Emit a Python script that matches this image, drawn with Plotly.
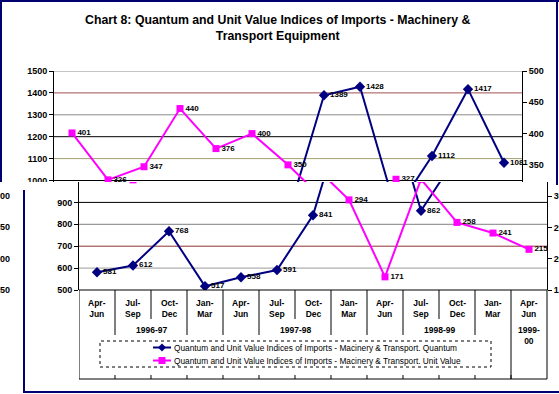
import plotly.graph_objects as go

# ---------------- data ----------------
quarters = ["Apr-Jun", "Jul-Sep", "Oct-Dec", "Jan-Mar",
            "Apr-Jun", "Jul-Sep", "Oct-Dec", "Jan-Mar",
            "Apr-Jun", "Jul-Sep", "Oct-Dec", "Jan-Mar",
            "Apr-Jun"]
quantum = [581, 612, 768, 517, 558, 591, 841, 1389, 1428, 862, 1112, 1417, 1081]
unit_value = [401, 326, 347, 440, 376, 400, 350, 294, 171, 327, 258, 241, 215]
year_labels = ["1996-97", "1997-98", "1998-99", "1999-00"]
year_first_quarter = [1, 5, 9, 12]
year_last_quarter = [2, 6, 10, 12]
left_ticks = [500, 600, 700, 800, 900, 1000, 1100, 1200, 1300, 1400, 1500]
right_ticks = [150, 200, 250, 300, 350, 400, 450, 500]
quantum_name = "Quantum and Unit Value Indices of Imports - Macinery & Transport. Quantum"
unit_name = "Quantum and Unit Value Indices of Imports - Macinery & Transport. Unit Value"
chart_title = "Chart 8: Quantum and Unit Value Indices of Imports - Machinery &<br>Transport Equipment"

# ---------------- geometry / style ----------------
W, H = 559, 394
FONT = "Liberation Sans, Arial, sans-serif"
NAVY = "#000080"
MAGENTA = "#FF00FF"
FRAME = "#00006e"


def fx(p):
    return p / W


def fy(p):
    return 1 - p / H


TOP, BOT, CUT = 71, 290, 182
A_L, A_R = 54, 522
B_L, B_R = 79, 547
N = len(quarters)
CAT_W = (A_R - A_L) / N
LMIN, LMAX = left_ticks[0], left_ticks[-1]
RMIN, RMAX = right_ticks[0], right_ticks[-1]
frac_cut = (BOT - CUT) / (BOT - TOP)
l_cut = LMIN + frac_cut * (LMAX - LMIN)
r_cut = RMIN + frac_cut * (RMAX - RMIN)
EXT_A = 30
EXT_B = W - B_R

grid_colors = {1500: "#8c8c8c", 1400: "#a05050", 1300: "#8c8c8c", 1200: "#000000",
               1100: "#a0a070", 1000: "#000000", 900: "#000000", 800: "#808080",
               700: "#903030", 600: "#9a9a9a"}

fig = go.Figure()

xs = list(range(N))
label_font = dict(family=FONT, size=8, color="black", weight="bold")


def add_pair(xa, yl, yr):
    fig.add_trace(go.Scatter(
        x=xs, y=quantum, xaxis=xa, yaxis=yl, name=quantum_name,
        mode="lines+markers+text", text=[str(v) for v in quantum],
        textposition="middle right", textfont=label_font,
        line=dict(color=NAVY, width=2),
        marker=dict(symbol="diamond", size=8, color=NAVY),
        showlegend=False, cliponaxis=True))
    fig.add_trace(go.Scatter(
        x=xs, y=unit_value, xaxis=xa, yaxis=yr, name=unit_name,
        mode="lines+markers+text", text=[str(v) for v in unit_value],
        textposition="middle right", textfont=label_font,
        line=dict(color=MAGENTA, width=2),
        marker=dict(symbol="square", size=7, color=MAGENTA),
        showlegend=False, cliponaxis=True))


# upper (first) copy and lower (shifted) copy of the chart
add_pair("x", "y", "y2")
add_pair("x2", "y3", "y4")

tickfont = dict(family=FONT, size=9, color="black", weight="bold")
common_y = dict(showgrid=False, zeroline=False, showline=True, linecolor="black",
                linewidth=1, ticks="outside", ticklen=4, tickcolor="black",
                tickfont=tickfont, fixedrange=True, automargin=False)

fig.update_layout(
    width=W, height=H, autosize=False,
    margin=dict(l=0, r=0, t=0, b=0, pad=0, autoexpand=False),
    showlegend=False,
    paper_bgcolor="white", plot_bgcolor="rgba(0,0,0,0)",
    xaxis=dict(domain=[fx(A_L), fx(A_R + EXT_A)],
               range=[-0.5, N - 0.5 + EXT_A / CAT_W],
               visible=False, fixedrange=True, anchor="y"),
    yaxis=dict(domain=[fy(CUT), fy(TOP)], range=[l_cut, LMAX],
               tickvals=[t for t in left_ticks if t >= l_cut], anchor="x", **common_y),
    yaxis2=dict(overlaying="y", side="right", anchor="free", position=fx(A_R),
                range=[r_cut, RMAX], tickvals=[t for t in right_ticks if t >= r_cut], **common_y),
    xaxis2=dict(domain=[fx(B_L), 1.0],
                range=[-0.5, N - 0.5 + EXT_B / CAT_W],
                visible=False, fixedrange=True, anchor="y3"),
    yaxis3=dict(domain=[fy(BOT), fy(CUT)], range=[LMIN, l_cut],
                tickvals=[t for t in left_ticks if t <= l_cut], anchor="x2", **common_y),
    yaxis4=dict(overlaying="y3", side="right", anchor="free", position=fx(B_R),
                range=[RMIN, r_cut], tickvals=[t for t in right_ticks if t <= r_cut], **common_y),
)

shapes = []
# horizontal gridlines
for v, c in grid_colors.items():
    if v >= l_cut:
        shapes.append(dict(type="line", xref="paper", yref="y", x0=fx(A_L), x1=fx(A_R),
                           y0=v, y1=v, line=dict(color=c, width=1), layer="below"))
    else:
        shapes.append(dict(type="line", xref="paper", yref="y3", x0=fx(B_L), x1=fx(B_R),
                           y0=v, y1=v, line=dict(color=c, width=1), layer="below"))

# category axis of lower copy
AX = dict(color="black", width=1)
shapes.append(dict(type="line", xref="x2", yref="paper", x0=-0.5, x1=N - 0.5,
                   y0=fy(BOT), y1=fy(BOT), line=AX))
group_of = list(range(N))
for gi, (f, l) in enumerate(zip(year_first_quarter, year_last_quarter)):
    for k in range(f, l + 1):
        group_of[k] = 1000 + gi
for k in range(1, N):
    xb = k - 0.5
    if k == year_first_quarter[-1]:
        yend = 379
    elif group_of[k] != group_of[k - 1]:
        yend = 335
    else:
        yend = 319
    shapes.append(dict(type="line", xref="x2", yref="paper", x0=xb, x1=xb,
                       y0=fy(BOT), y1=fy(yend), line=AX))
    shapes.append(dict(type="line", xref="x2", yref="paper", x0=xb, x1=xb,
                       y0=fy(375), y1=fy(379), line=AX))
for xb in (-0.5, N - 0.5):
    shapes.append(dict(type="line", xref="x2", yref="paper", x0=xb, x1=xb,
                       y0=fy(BOT), y1=fy(379), line=AX))
shapes.append(dict(type="line", xref="x2", yref="paper", x0=-0.5, x1=N - 0.5,
                   y0=fy(379), y1=fy(379), line=AX))

# legend box of lower copy (drawn by hand)
shapes.append(dict(type="rect", xref="paper", yref="paper", x0=fx(100), x1=fx(491),
                   y0=fy(367), y1=fy(341), fillcolor="white",
                   line=dict(color="black", width=1, dash="dot")))
LEG_X0, LEG_X1 = 153, 171
legend_rows = [(quantum_name, NAVY, "diamond", 347.5), (unit_name, MAGENTA, "square", 360.5)]
for name, col, sym, yy in legend_rows:
    shapes.append(dict(type="line", xref="paper", yref="paper", x0=fx(LEG_X0), x1=fx(LEG_X1),
                       y0=fy(yy), y1=fy(yy), line=dict(color=col, width=2)))
    cx = (LEG_X0 + LEG_X1) / 2
    if sym == "square":
        shapes.append(dict(type="rect", xref="paper", yref="paper", x0=fx(cx - 3.5), x1=fx(cx + 3.5),
                           y0=fy(yy + 3.5), y1=fy(yy - 3.5), fillcolor=col, line=dict(width=0)))
    else:
        path = "M {} {} L {} {} L {} {} L {} {} Z".format(
            fx(cx), fy(yy - 4), fx(cx + 4), fy(yy), fx(cx), fy(yy + 4), fx(cx - 4), fy(yy))
        shapes.append(dict(type="path", xref="paper", yref="paper", path=path,
                           fillcolor=col, line=dict(width=0)))

# frames (upper and shifted lower copy)
FR = dict(color=FRAME, width=2)
shapes += [
    dict(type="line", xref="paper", yref="paper", x0=0, x1=1, y0=fy(1), y1=fy(1), line=FR),
    dict(type="line", xref="paper", yref="paper", x0=fx(1), x1=fx(1), y0=fy(0), y1=fy(183), line=FR),
    dict(type="line", xref="paper", yref="paper", x0=fx(557), x1=fx(557), y0=fy(0), y1=fy(185), line=FR),
    dict(type="line", xref="paper", yref="paper", x0=fx(24), x1=fx(24), y0=fy(183), y1=fy(393), line=FR),
    dict(type="line", xref="paper", yref="paper", x0=fx(24), x1=1, y0=fy(392), y1=fy(392), line=FR),
]
fig.update_layout(shapes=shapes)

annotations = [dict(text="<b>" + chart_title + "</b>", x=fx(277.5), y=fy(28), xref="paper",
                    yref="paper", xanchor="center", yanchor="middle", showarrow=False,
                    align="center", font=dict(family=FONT, size=12.3, color="black"))]
lab_font = dict(family=FONT, size=8.5, color="black", weight="bold")
for i, q in enumerate(quarters):
    annotations.append(dict(text=q.replace("-", "-<br>"), x=i, xref="x2", y=fy(296),
                            yref="paper", xanchor="center", yanchor="top", showarrow=False,
                            align="center", font=lab_font))
for lab, f, l in zip(year_labels, year_first_quarter, year_last_quarter):
    txt = lab if l > f else lab.replace("-", "-<br>")
    annotations.append(dict(text=txt, x=(f + l) / 2, xref="x2", y=fy(323), yref="paper",
                            xanchor="center", yanchor="top", showarrow=False,
                            align="center", font=lab_font))
# legend texts
for name, col, sym, yy in legend_rows:
    annotations.append(dict(text=name, x=fx(LEG_X1 + 1), y=fy(yy), xref="paper", yref="paper",
                            xanchor="left", yanchor="middle", showarrow=False,
                            font=dict(family=FONT, size=8.3, color="black")))
# wrapped-around right-axis labels of the shifted copy at the left edge
for t in right_ticks:
    if t <= r_cut:
        annotations.append(dict(text=str(t), x=fx(12), xref="paper", y=t, yref="y4",
                                xanchor="right", yanchor="middle", showarrow=False,
                                font=tickfont))
# white cover cutting the upper copy's lowest axis label
annotations.append(dict(text=" ", x=0, y=fy(182), xref="paper", yref="paper",
                        xanchor="left", yanchor="top", width=52, height=8,
                        bgcolor="white", borderpad=0, borderwidth=0, showarrow=False,
                        font=dict(size=6)))
fig.update_layout(annotations=annotations)

fig.write_html("out.html", config={"displayModeBar": False, "staticPlot": True},
               post_script="document.body.style.margin='0';document.body.style.overflow='hidden';")
